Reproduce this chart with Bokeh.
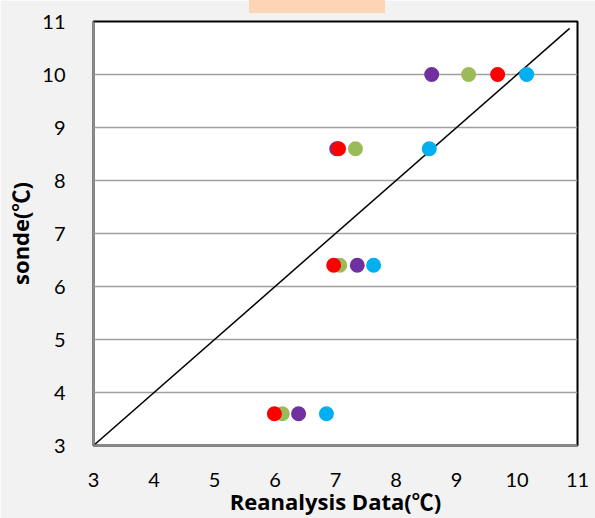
from bokeh.plotting import figure
from bokeh.models import Range1d, FixedTicker, Div
from bokeh.layouts import column
from bokeh.embed import file_html
from bokeh.resources import INLINE

# Sonde temperature levels (y) and the matching reanalysis values (x), four series
sonde = [10.0, 8.6, 6.4, 3.6]
series_blue = [10.16, 8.55, 7.63, 6.85]
series_purple = [8.59, 7.02, 7.36, 6.39]
series_green = [9.20, 7.33, 7.07, 6.12]
series_red = [9.68, 7.05, 6.97, 5.99]

# 1:1 reference line
diag_x = [2.88, 10.87]
diag_y = [2.88, 10.87]

ticks = [3, 4, 5, 6, 7, 8, 9, 10, 11]

TICK_FONT = "Lato"
LABEL_FONT = "'Open Sans', 'Noto Sans CJK SC'"
BG = "#f2f2f2"

W, H = 595, 518

p = figure(
    width=W, height=H,
    x_range=Range1d(3, 11), y_range=Range1d(3, 11),
    output_backend="svg", toolbar_location=None,
    min_border_left=93, min_border_right=18,
    min_border_top=21, min_border_bottom=72,
    margin=0,
)
p.border_fill_color = BG
p.background_fill_color = "white"
p.outline_line_color = "black"
p.outline_line_width = 2

p.xgrid.visible = False
p.ygrid.ticker = FixedTicker(ticks=ticks)
p.ygrid.grid_line_color = "#a0a0a0"
p.ygrid.grid_line_width = 1.5

for ax in (p.xaxis[0], p.yaxis[0]):
    ax.ticker = FixedTicker(ticks=ticks)
    ax.axis_line_color = "#8c8c8c"
    ax.axis_line_width = 2
    ax.major_tick_line_color = None
    ax.minor_tick_line_color = None
    ax.major_label_text_font = TICK_FONT
    ax.major_label_text_font_size = "20px"
    ax.major_label_text_color = "black"
    ax.axis_label_text_font = LABEL_FONT
    ax.axis_label_text_font_size = "22px"
    ax.axis_label_text_font_style = "bold"
    ax.axis_label_text_color = "black"

p.xaxis.axis_label = "Reanalysis Data(\u2103)"
p.yaxis.axis_label = "sonde(\u2103)"
p.xaxis.major_label_standoff = 21
p.xaxis.axis_label_standoff = -4
p.yaxis.major_label_standoff = 22
p.yaxis.axis_label_standoff = 4

p.line(diag_x, diag_y, line_color="black", line_width=1.5)

for xs, color in [
    (series_blue, "#00b0f0"),
    (series_purple, "#7030a0"),
    (series_green, "#9bbb59"),
    (series_red, "#ff0000"),
]:
    p.scatter(xs, sonde, size=15, fill_color=color, line_color=None)

# legend panel, cut off at the top edge, laid over the figure's top border
strip = Div(
    text="", width=136, height=13, margin=(-H, 0, 0, 249),
    styles={"background-color": "#fcd5b4"},
)

layout = column(p, strip, spacing=0, margin=0)

open("out.html", "w").write(file_html(layout, INLINE))
